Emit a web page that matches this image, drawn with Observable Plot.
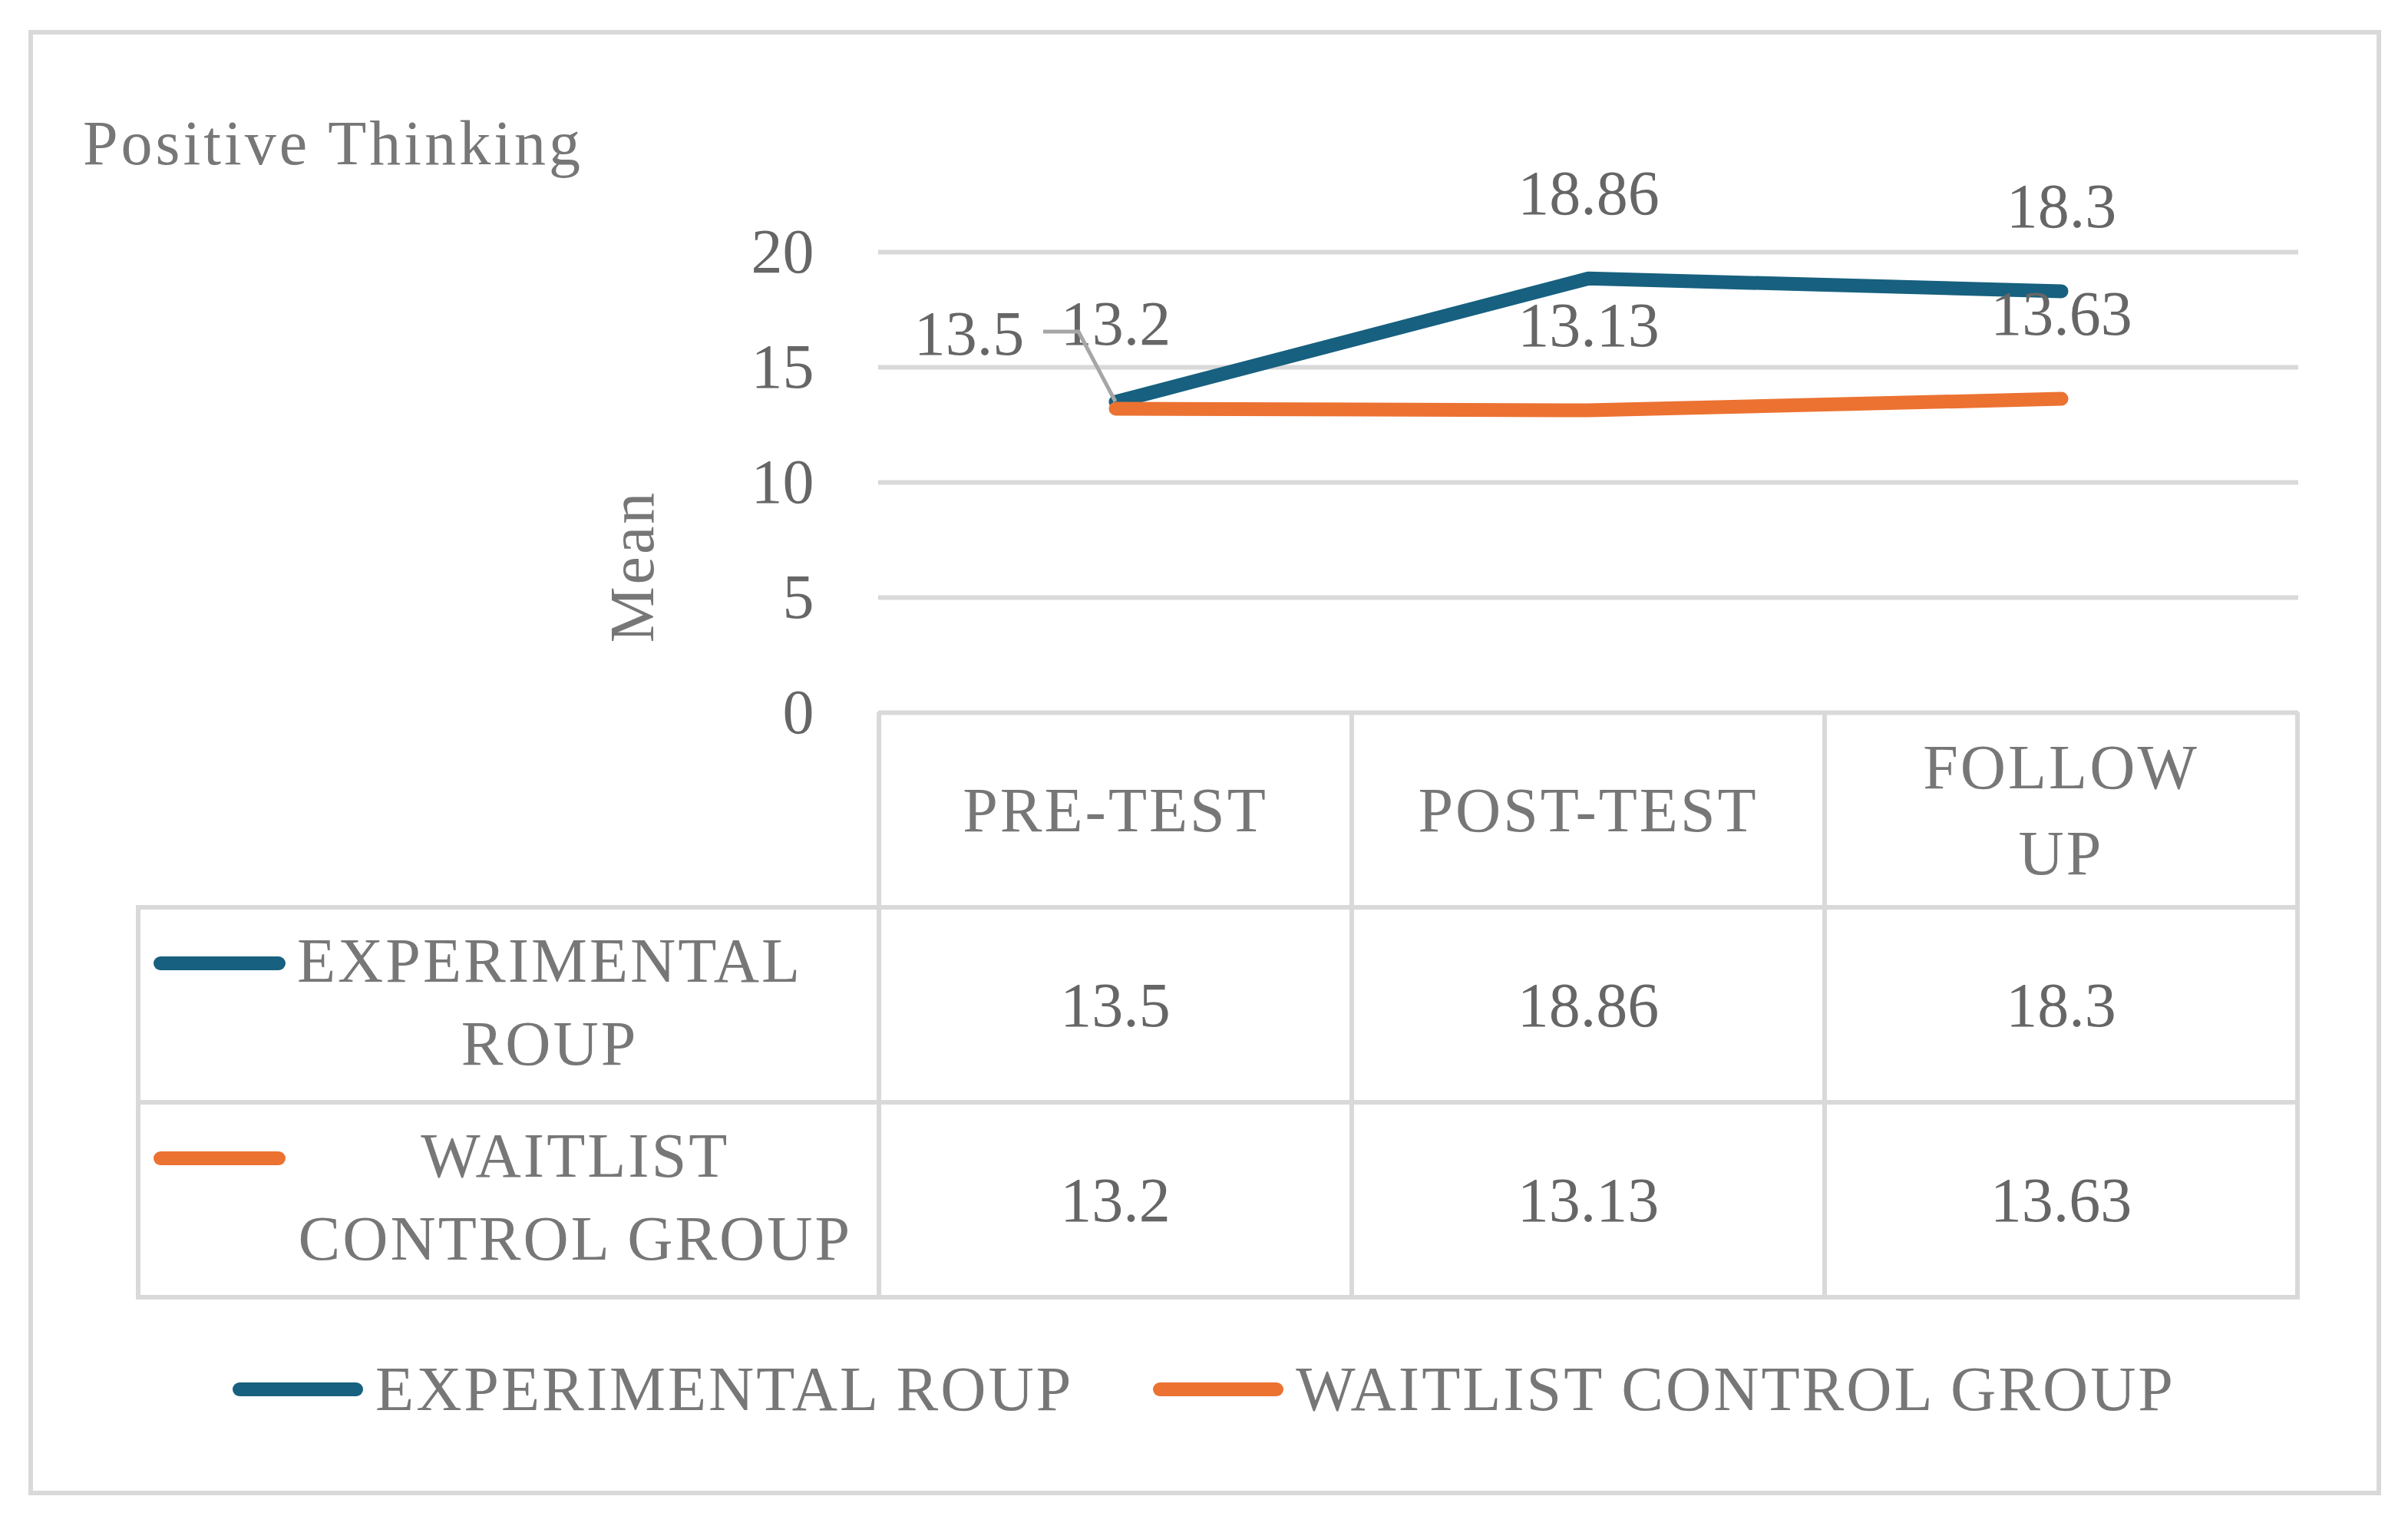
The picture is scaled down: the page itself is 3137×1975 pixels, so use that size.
<!DOCTYPE html>
<html>
<head>
<meta charset="utf-8">
<script src="https://cdn.jsdelivr.net/npm/d3@7"></script>
<script src="https://cdn.jsdelivr.net/npm/@observablehq/plot@0.6"></script>
<style>
  html, body { margin: 0; padding: 0; background: #fff; }
  #page { position: relative; width: 3137px; height: 1975px; overflow: hidden; font-family: "Liberation Serif", "DejaVu Serif", serif; }
  #frame { position: absolute; left: 37px; top: 39px; width: 3065px; height: 1909px; box-sizing: border-box; border: 6px solid #d9d9d9; }
  #title { position: absolute; left: 108px; top: 146px; font-size: 82px; line-height: 82px; color: #777777; white-space: nowrap; letter-spacing: 4px; }
  #chart { position: absolute; left: 0; top: 0; }
  #legend { position: absolute; left: 0; top: 1760px; width: 3137px; height: 100px; display: flex; justify-content: center; align-items: center; font-size: 82px; line-height: 82px; color: #777777; letter-spacing: 3px; }
  .item { display: flex; align-items: center; white-space: nowrap; }
  .sw { width: 170px; height: 18px; border-radius: 9px; margin-right: 16px; }
</style>
</head>
<body>
<div id="page">
  <div id="frame"></div>
  <div id="chart"></div>
  <div id="title"></div>
  <div id="legend"></div>
</div>
<script>
// ---- data ----
const chartTitle = "Positive Thinking";
const yLabel = "Mean";
const categories = ["PRE-TEST", "POST-TEST", "FOLLOW UP"];
const categoryLines = [["PRE-TEST"], ["POST-TEST"], ["FOLLOW", "UP"]];
const seriesNames = ["EXPERIMENTAL ROUP", "WAITLIST CONTROL GROUP"];
const seriesTableLines = [["EXPERIMENTAL", "ROUP"], ["WAITLIST", "CONTROL GROUP"]];
const experimental = [13.5, 18.86, 18.3];
const waitlist = [13.2, 13.13, 13.63];
const seriesColors = ["#17607f", "#ec7232"];
const yTicks = [0, 5, 10, 15, 20];

// ---- build ----
const FONT = '"Liberation Serif", "DejaVu Serif", serif';
const FS = 82;
const LS = 3;
const numColor = "#666666";
const textColor = "#777777";
const lineColor = "#d9d9d9";

const seriesValues = [experimental, waitlist];
const rows = seriesNames.flatMap((s, i) =>
  categories.map((c, j) => ({series: s, si: i, cat: c, ci: j, value: seriesValues[i][j]})));
const isShifted = d => d.si === 0 && d.ci === 0; // label moved aside with leader line

document.getElementById("title").textContent = chartTitle;

const chart = Plot.plot({
  width: 3137,
  height: 1975,
  marginLeft: 1144,
  marginRight: 143,
  marginTop: 328,
  marginBottom: 1047,
  style: {fontFamily: FONT, fontSize: FS + "px", color: numColor, background: "transparent", overflow: "visible"},
  x: {type: "point", domain: categories, padding: 0.5, axis: null},
  y: {domain: [0, 20], axis: null},
  color: {domain: seriesNames, range: seriesColors},
  marks: [
    Plot.gridY(yTicks, {stroke: lineColor, strokeWidth: 6, strokeOpacity: 1}),
    Plot.axisY(yTicks, {tickSize: 0, tickPadding: 84, label: null, fill: numColor, fontSize: FS}),
    Plot.line(rows, {x: "cat", y: "value", z: "series", stroke: "series", strokeWidth: 18, strokeLinecap: "round", strokeLinejoin: "round"}),
    Plot.text(rows.filter(d => !isShifted(d)), {x: "cat", y: "value", text: d => String(d.value), dy: -110, fill: numColor, fontSize: FS}),
    Plot.text(rows.filter(isShifted), {x: "cat", y: "value", text: d => String(d.value), dx: -191, dy: -88, fill: numColor, fontSize: FS})
  ]
});
document.getElementById("chart").appendChild(chart);

// ---- extras drawn with Plot's scales ----
const xs = chart.scale("x");
const ys = chart.scale("y");
const X = c => xs.apply(c);
const Y = v => ys.apply(v);
const step = X(categories[1]) - X(categories[0]);
const left = X(categories[0]) - step / 2;
const right = X(categories[categories.length - 1]) + step / 2;
const y0 = Y(0);
const rowH = 254;
const tableLeft = 180;
const nRows = seriesNames.length + 1;

const svg = d3.select(chart);

// leader line for the moved label
rows.filter(isShifted).forEach(d => {
  const px = X(d.cat), py = Y(d.value);
  svg.append("path")
    .attr("d", `M${px},${py}L${px - 48},${py - 91}L${px - 94},${py - 91}`)
    .attr("fill", "none").attr("stroke", "#a6a6a6").attr("stroke-width", 5);
});

// y axis title
svg.append("text")
  .attr("transform", `translate(${left - 322},${y0 - 190}) rotate(-90)`)
  .attr("text-anchor", "middle").attr("dominant-baseline", "central")
  .attr("fill", textColor).attr("font-size", FS).attr("font-family", FONT)
  .attr("letter-spacing", LS)
  .text(yLabel);

// table lines
const g = svg.append("g").attr("stroke", lineColor).attr("stroke-width", 6).attr("fill", "none");
for (let r = 1; r <= nRows; r++) {
  g.append("line").attr("x1", tableLeft - 3).attr("x2", right + 3).attr("y1", y0 + r * rowH).attr("y2", y0 + r * rowH);
}
const colEdges = [left, ...categories.map(c => X(c) + step / 2)];
colEdges.forEach(x => g.append("line").attr("x1", x).attr("x2", x).attr("y1", y0).attr("y2", y0 + nRows * rowH + 3));
g.append("line").attr("x1", tableLeft).attr("x2", tableLeft).attr("y1", y0 + rowH).attr("y2", y0 + nRows * rowH + 3);

// header text
const t = svg.append("g").attr("font-family", FONT).attr("font-size", FS).attr("text-anchor", "middle").attr("dominant-baseline", "central");
categories.forEach((c, j) => {
  const lines = categoryLines[j];
  lines.forEach((ln, k) => {
    t.append("text").attr("x", X(c)).attr("y", y0 + rowH / 2 + (k - (lines.length - 1) / 2) * 112)
      .attr("fill", textColor).attr("letter-spacing", LS).text(ln);
  });
});
// values
rows.forEach(d => {
  t.append("text").attr("x", X(d.cat)).attr("y", y0 + rowH * (d.si + 1) + rowH / 2)
    .attr("fill", numColor).text(String(d.value));
});
// row labels with swatches
const ctx = document.createElement("canvas").getContext("2d");
ctx.font = `${FS}px ${FONT}`;
seriesNames.forEach((s, i) => {
  const lines = seriesTableLines[i];
  const cy = y0 + rowH * (i + 1) + rowH / 2 - 4;
  const maxW = d3.max(lines, ln => ctx.measureText(ln).width + LS * ln.length);
  const cx = 387 + maxW / 2;
  lines.forEach((ln, k) => {
    t.append("text").attr("x", cx).attr("y", cy + (k - (lines.length - 1) / 2) * 108)
      .attr("fill", textColor).attr("letter-spacing", LS).text(ln);
  });
  const sy = cy - 50;
  svg.append("line").attr("x1", 209).attr("x2", 363).attr("y1", sy).attr("y2", sy)
    .attr("stroke", seriesColors[i]).attr("stroke-width", 18).attr("stroke-linecap", "round");
});

// bottom legend
const legend = d3.select("#legend");
seriesNames.forEach((s, i) => {
  const it = legend.append("div").attr("class", "item").style("margin-left", i ? "104px" : "0px");
  it.append("div").attr("class", "sw").style("background", seriesColors[i]);
  it.append("span").text(s);
});
</script>
</body>
</html>
